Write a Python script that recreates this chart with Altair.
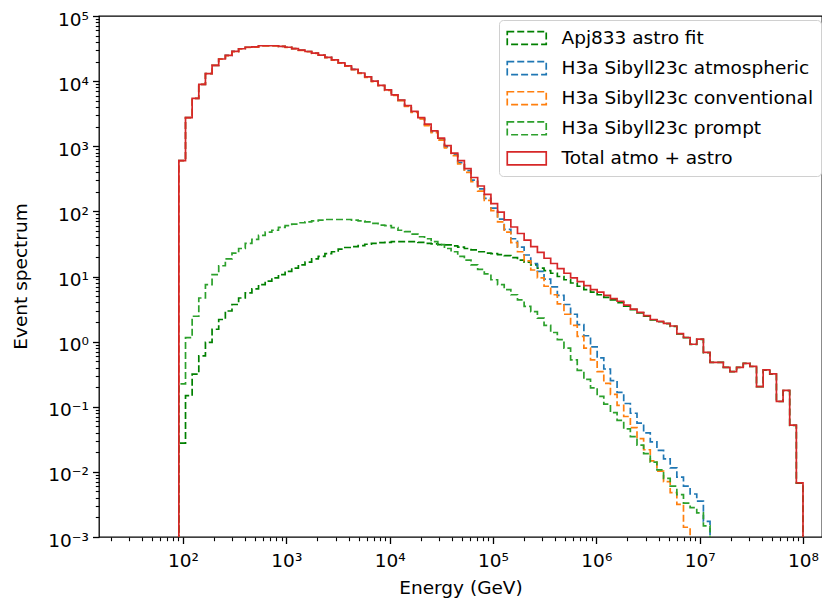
import altair as alt
import numpy as np
import pandas as pd

# ---------------- data (log10 of event counts per energy bin) ----------------
LOG_E_MIN = 1.96      # first bin edge, log10(GeV)
LOG_E_MAX = 8.0       # last bin edge, log10(GeV)
N_BINS = 94

SERIES = [
    "Apj833 astro fit",
    "H3a Sibyll23c atmospheric",
    "H3a Sibyll23c conventional",
    "H3a Sibyll23c prompt",
    "Total atmo + astro",
]
COLORS = ["#008000", "#1f77b4", "#ff7f0e", "#2ca02c", "#d62728"]

ASTRO_LOG = [
    -1.56, -0.83, -0.50, -0.22, -0.01, 0.19, 0.34, 0.47, 0.57, 0.67,
    0.75, 0.81, 0.875, 0.93, 0.98, 1.03, 1.08, 1.13, 1.18, 1.22,
    1.27, 1.31, 1.35, 1.38, 1.42, 1.445, 1.46, 1.475, 1.495, 1.51,
    1.52, 1.525, 1.535, 1.535, 1.535, 1.535, 1.525, 1.51, 1.50, 1.49,
    1.485, 1.47, 1.45, 1.43, 1.41, 1.38, 1.36, 1.35, 1.335, 1.32,
    1.29, 1.25, 1.22, 1.18, 1.13, 1.09, 1.05, 1.00, 0.95, 0.90,
    0.85, 0.80, 0.76, 0.72, 0.68, 0.64, 0.60, 0.545, 0.49, 0.44,
    0.39, 0.335, 0.305, 0.275, 0.235, 0.12, 0.06, -0.043, 0.035, -0.168,
    -0.32, -0.32, -0.396, -0.462, -0.396, -0.335, -0.382, -0.692, -0.437, -0.498,
    -0.919, -0.752, -1.285, -2.172,
]

ATMOS_LOG = [
    2.78, 3.44, 3.735, 3.95, 4.116, 4.243, 4.34, 4.395, 4.456, 4.497,
    4.52, 4.525, 4.543, 4.543, 4.543, 4.535, 4.52, 4.50, 4.475, 4.455,
    4.43, 4.40, 4.365, 4.325, 4.28, 4.235, 4.18, 4.124, 4.064, 3.999,
    3.933, 3.862, 3.786, 3.705, 3.618, 3.527, 3.429, 3.328, 3.222, 3.11,
    2.99, 2.875, 2.75, 2.625, 2.48, 2.345, 2.20, 2.05, 1.88, 1.725,
    1.58, 1.45, 1.33, 1.20, 1.08, 0.96, 0.84, 0.71, 0.57, 0.42,
    0.26, 0.09, -0.08, -0.25, -0.42, -0.60, -0.78, -0.95, -1.10, -1.25,
    -1.40, -1.54, -1.67, -1.80, -1.94, -2.08, -2.22, -2.34, -2.45, -2.76,
    None, None, None, None, None, None, None, None, None, None,
    None, None, None, None,
]

CONV_LOG = [
    2.779, 3.439, 3.734, 3.949, 4.114, 4.241, 4.338, 4.393, 4.454, 4.495,
    4.518, 4.523, 4.541, 4.541, 4.541, 4.533, 4.518, 4.498, 4.473, 4.452,
    4.427, 4.397, 4.362, 4.321, 4.276, 4.231, 4.175, 4.119, 4.058, 3.992,
    3.930, 3.859, 3.782, 3.70, 3.612, 3.52, 3.42, 3.318, 3.21, 3.095,
    2.975, 2.855, 2.73, 2.60, 2.455, 2.31, 2.17, 2.01, 1.84, 1.68,
    1.52, 1.38, 1.24, 1.10, 0.98, 0.85, 0.72, 0.58, 0.42, 0.25,
    0.08, -0.10, -0.28, -0.46, -0.64, -0.81, -0.98, -1.15, -1.32, -1.49,
    -1.66, -1.83, -1.99, -2.15, -2.32, -2.50, -2.85, None, None, None,
    None, None, None, None, None, None, None, None, None, None,
    None, None, None, None,
]

PROMPT_LOG = [
    -0.65, 0.06, 0.39, 0.67, 0.875, 1.03, 1.165, 1.27, 1.36, 1.43,
    1.51, 1.57, 1.63, 1.68, 1.71, 1.755, 1.78, 1.805, 1.825, 1.84,
    1.855, 1.865, 1.875, 1.875, 1.875, 1.875, 1.865, 1.855, 1.84, 1.815,
    1.79, 1.78, 1.75, 1.71, 1.69, 1.65, 1.61, 1.58, 1.535, 1.49,
    1.43, 1.38, 1.31, 1.25, 1.18, 1.11, 1.04, 0.95, 0.875, 0.80,
    0.72, 0.64, 0.54, 0.46, 0.36, 0.25, 0.14, 0.03, -0.10, -0.28,
    -0.44, -0.58, -0.71, -0.84, -0.96, -1.09, -1.21, -1.34, -1.46, -1.59,
    -1.72, -1.85, -1.97, -2.10, -2.22, -2.35, -2.48, -2.55, -2.63, -2.83,
    None, None, None, None, None, None, None, None, None, None,
    None, None, None, None,
]

TOTAL_LOG = [
    2.78, 3.44, 3.735, 3.95, 4.116, 4.243, 4.34, 4.395, 4.456, 4.497,
    4.52, 4.525, 4.543, 4.543, 4.543, 4.535, 4.52, 4.50, 4.475, 4.455,
    4.43, 4.40, 4.365, 4.325, 4.28, 4.235, 4.18, 4.125, 4.065, 4.00,
    3.935, 3.865, 3.79, 3.71, 3.625, 3.535, 3.44, 3.34, 3.235, 3.125,
    3.01, 2.895, 2.78, 2.655, 2.52, 2.39, 2.26, 2.12, 1.99, 1.87,
    1.76, 1.66, 1.56, 1.46, 1.37, 1.28, 1.20, 1.12, 1.05, 0.98,
    0.92, 0.86, 0.80, 0.76, 0.71, 0.66, 0.62, 0.56, 0.50, 0.45,
    0.40, 0.34, 0.31, 0.28, 0.24, 0.124, 0.063, -0.04, 0.037, -0.166,
    -0.318, -0.318, -0.394, -0.46, -0.394, -0.333, -0.38, -0.69, -0.435, -0.496,
    -0.917, -0.75, -1.283, -2.17,
]

X_MAJOR_EXP = [2, 3, 4, 5, 6, 7, 8]
Y_MAJOR_EXP = [-3, -2, -1, 0, 1, 2, 3, 4, 5]
X_DOMAIN = [10 ** 1.187, 10 ** 8.184]
Y_DOMAIN = [1e-3, 1e5]

# ---------------- build step-path table ----------------
ALL_LOG = [ASTRO_LOG, ATMOS_LOG, CONV_LOG, PROMPT_LOG, TOTAL_LOG]
edges = np.logspace(LOG_E_MIN, LOG_E_MAX, N_BINS + 1)
FLOOR = 1e-6

rows = []
for name, vals in zip(SERIES, ALL_LOG):
    assert len(vals) == N_BINS, (name, len(vals))
    idx = [i for i, v in enumerate(vals) if v is not None]
    first, last = idx[0], idx[-1]
    o = 0
    rows.append(dict(series=name, e=edges[first], y=FLOOR, o=o)); o += 1
    for i in range(first, last + 1):
        rows.append(dict(series=name, e=edges[i], y=10 ** vals[i], o=o)); o += 1
    rows.append(dict(series=name, e=edges[last + 1], y=10 ** vals[last], o=o)); o += 1
    rows.append(dict(series=name, e=edges[last + 1], y=FLOOR, o=o))
df = pd.DataFrame(rows)

SUP = {"-": "\u207b", "0": "\u2070", "1": "\u00b9", "2": "\u00b2", "3": "\u00b3",
       "4": "\u2074", "5": "\u2075", "6": "\u2076", "7": "\u2077", "8": "\u2078", "9": "\u2079"}


def sup(n):
    return "".join(SUP[c] for c in str(n))


def label_expr(exps):
    s = ""
    for e in exps:
        s += f"round(log(datum.value)/LN10)=={e} ? '10{sup(e)}' : "
    return s + "''"


x_minor = [k * 10.0 ** e for e in range(1, 8) for k in range(2, 10)
           if X_DOMAIN[0] <= k * 10.0 ** e <= X_DOMAIN[1]]
y_minor = [k * 10.0 ** e for e in range(-3, 5) for k in range(2, 10)]

FS = 18.5
xscale = alt.Scale(type="log", domain=X_DOMAIN, nice=False)
yscale = alt.Scale(type="log", domain=Y_DOMAIN, nice=False)

legend = alt.Legend(
    title=None, orient="none", legendX=400, legendY=4,
    symbolType="M-1,-0.66H3V0.66H-1Z", symbolSize=380,
    labelFontSize=FS, labelFont="DejaVu Sans", labelColor="black",
    labelOffset=33.5, rowPadding=9.1, padding=7,
    strokeColor="#d0d0d0", fillColor="white", cornerRadius=4,
    labelLimit=400,
)

color = alt.Color("series:N", scale=alt.Scale(domain=SERIES, range=COLORS), legend=legend)
dash = alt.StrokeDash("series:N", scale=alt.Scale(domain=SERIES, range=[[7, 3]] * 4 + [[1, 0]]), legend=legend)
width = alt.StrokeWidth("series:N", scale=alt.Scale(domain=SERIES, range=[1.7, 1.7, 1.7, 1.7, 3.0]), legend=legend)

x_axis = alt.Axis(values=[10.0 ** e for e in X_MAJOR_EXP], labelExpr=label_expr(X_MAJOR_EXP),
                  title="Energy (GeV)", titleFontSize=FS, titleFontWeight="normal", titleColor="black",
                  titleY=50, titleBaseline="middle",
                  labelFontSize=FS, labelColor="black", labelPadding=8, labelFlush=False,
                  tickSize=6.5, tickWidth=1.3, tickColor="black", domain=False, grid=False)
y_axis = alt.Axis(values=[10.0 ** e for e in Y_MAJOR_EXP], labelExpr=label_expr(Y_MAJOR_EXP),
                  title="Event spectrum", titleFontSize=FS, titleFontWeight="normal", titleColor="black",
                  titleX=-79, titleY=260, titleBaseline="middle", titleAlign="center", titleAngle=270,
                  labelFontSize=FS, labelColor="black", labelPadding=4, labelFlush=False, labelOffset=3,
                  tickSize=6.5, tickWidth=1.3, tickColor="black", domain=False, grid=False)

layers = []
for name in SERIES:
    layers.append(
        alt.Chart(df).transform_filter(alt.datum.series == name)
        .mark_line(interpolate="step-after", clip=True)
        .encode(
            x=alt.X("e:Q", scale=xscale, axis=x_axis),
            y=alt.Y("y:Q", scale=yscale, axis=y_axis),
            color=color, strokeDash=dash, strokeWidth=width,
            order=alt.Order("o:Q"),
        )
    )
main = alt.layer(*layers)

minor = alt.Chart(pd.DataFrame({"e": [1e3], "y": [1.0]})).mark_point(opacity=0).encode(
    x=alt.X("e:Q", scale=xscale, axis=alt.Axis(values=x_minor, labels=False, title=None, orient="bottom",
                                               tickSize=3.7, tickWidth=1.1, tickColor="black",
                                               domain=False, grid=False)),
    y=alt.Y("y:Q", scale=yscale, axis=alt.Axis(values=y_minor, labels=False, title=None, orient="left",
                                               tickSize=3.7, tickWidth=1.1, tickColor="black",
                                               domain=False, grid=False)),
)

chart = alt.layer(main, minor).resolve_axis(x="independent", y="independent").properties(
    width=723, height=521,
    padding={"left": 91, "top": 8, "right": 0, "bottom": 61},
    autosize=alt.AutoSizeParams(type="none"),
    background="white",
).configure(font="DejaVu Sans").configure_view(stroke="black", strokeWidth=1.3)

chart.save("out.html", embed_options={"renderer": "svg", "actions": False})
